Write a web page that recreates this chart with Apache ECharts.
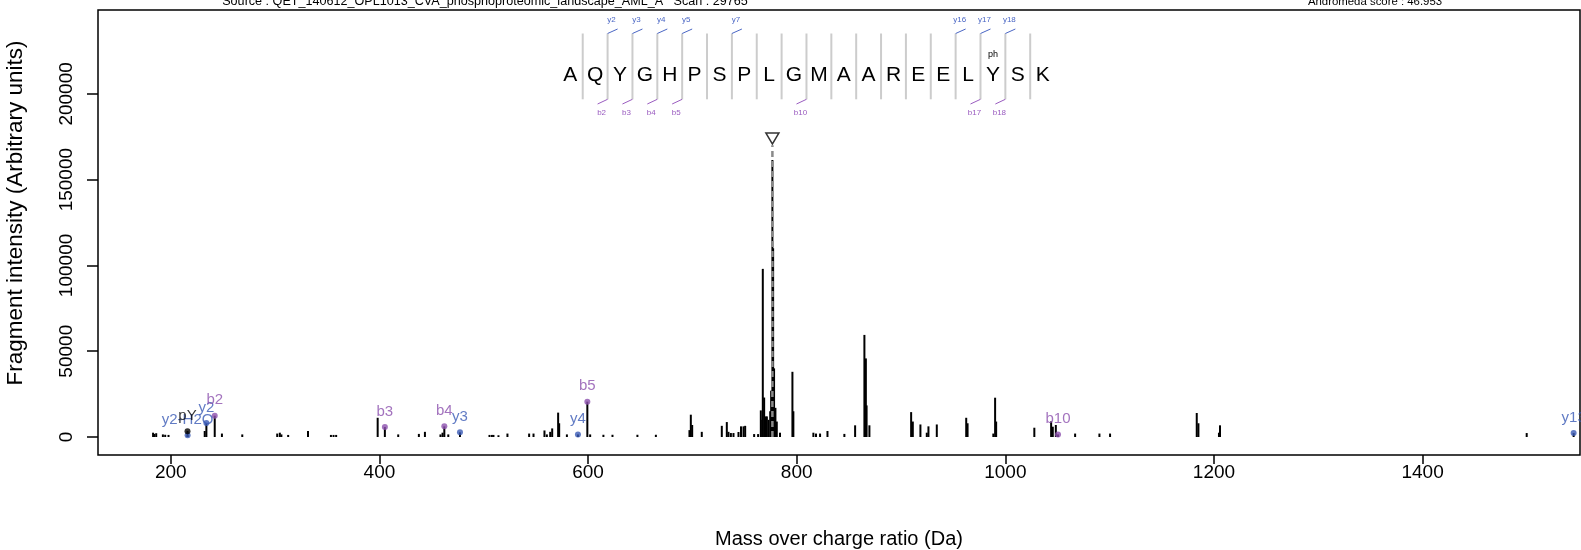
<!DOCTYPE html>
<html><head><meta charset="utf-8">
<script src="https://cdn.jsdelivr.net/npm/echarts@6/dist/echarts.min.js"></script>
<style>html,body{margin:0;padding:0;background:#fff}#c{width:1581px;height:550px}</style>
</head><body><div id="c"></div>
<script>
// ---------- data ----------
const peakMz = [183.0,184.1,186.0,192.4,194.6,197.8,232.5,249.0,268.5,302.0,304.5,306.0,312.5,331.5,353.5,356.0,358.5,
  398.3,418.0,437.8,443.6,458.5,460.5,466.0,505.5,507.8,509.3,514.1,522.7,543.5,547.7,558.2,560.5,563.7,565.6,571.3,572.3,
  579.7,602.0,614.7,623.4,647.3,665.0,697.2,698.5,699.8,709.0,728.2,733.0,734.6,736.9,739.4,744.2,746.6,749.0,750.6,759.2,
  763.0,765.6,766.9,767.5,768.8,770.1,771.4,773.0,774.6,775.5,776.7,777.4,778.3,779.6,780.9,784.0,795.9,796.8,816.0,818.5,
  822.4,829.5,845.7,856.0,864.9,866.3,867.0,869.7,909.7,911.3,918.6,924.7,926.3,934.3,962.5,963.8,988.5,990.2,991.2,1027.8,
  1043.9,1045.5,1048.4,1066.9,1090.2,1100.4,1183.5,1185.1,1204.8,1205.8,1499.8];
const peakInt = [2500,1800,2200,1500,1300,1200,3500,2000,1500,2000,2500,1500,1200,3500,1200,1200,1200,
  11200,1500,1800,3000,1500,2500,1500,1200,1200,1200,1000,2000,2000,2000,3800,1500,3000,5000,14200,8000,
  1500,1500,1300,1300,1300,1300,4000,13000,7000,3000,6500,8700,3000,2300,2300,2900,6200,6200,6500,1700,
  1700,15500,10000,98000,23000,12000,12000,10000,15000,27000,161500,110000,40000,17000,9000,2500,38000,15000,2500,2000,
  2000,3500,1800,6800,59500,45800,18400,6800,14500,9000,7300,2500,6200,7300,11200,8000,2000,22900,9000,5400,
  9100,6000,7000,2000,2000,2000,14000,8000,2500,6800,2300];

const ionLabels = ['pY','y2-H2O','y2','b2','b3','b4','y3','y4','b5','b10','y13'];
const ionMz     = [216.0, 216.1, 234.1, 242.1, 405.2, 462.2, 477.2, 590.3, 599.3, 1050.5, 1544.8];
const ionInt    = [3400, 1000, 8100, 12400, 5800, 6200, 2700, 1500, 20600, 1500, 2300];
const ionKind   = ['imm','y','y','b','b','b','y','y','b','b','y'];

const precursorMz = 776.7;
const precursorMarkInt = 174000;
const precursorLineTop = 170000;

const sequence = ['A','Q','Y','G','H','P','S','P','L','G','M','A','A','R','E','E','L','Y','S','K'];
const bBreaks = [2,3,4,5,10,17,18];
const bBreakLabels = ['b2','b3','b4','b5','b10','b17','b18'];
const yBreaks = [2,3,4,5,7,16,17,18];
const yBreakLabels = ['y2','y3','y4','y5','y7','y16','y17','y18'];
const modIndex = 17;
const modLabel = 'ph';

const xTicks = [200,400,600,800,1000,1200,1400];
const yTicks = [0,50000,100000,150000,200000];

const sourceText = 'Source : QET_140612_OPL1013_CVA_phosphoproteomic_landscape_AML_A   Scan : 29765';
const scoreText = 'Andromeda score : 46.953';
const xTitle = 'Mass over charge ratio (Da)';
const yTitle = 'Fragment intensity (Arbitrary units)';

// ---------- style ----------
const FONT = '"Liberation Sans", Arial, Helvetica, sans-serif';
const BLUE = '#3a5ab5';
const PURPLE = '#8c50ae';
const kindColor = {imm:'#000000', y:BLUE, b:PURPLE};
const GRID = {left:98, right:1, top:10, bottom:95};

// sequence layout
const seqX0 = 570.3, seqDx = 24.86, seqY = 75.5;
const sepTop = 33.5, sepBot = 99.3;

const graphics = [];
sequence.forEach((s,i)=>{
  graphics.push({type:'text', x:seqX0+i*seqDx, y:seqY, style:{text:s, font:'21px '+FONT, fill:'#000', align:'center', verticalAlign:'middle'}});
});
for (let k=1;k<sequence.length;k++){
  const sx = seqX0+(k-0.5)*seqDx;
  graphics.push({type:'line', shape:{x1:sx,y1:sepTop,x2:sx,y2:sepBot}, style:{stroke:'#cccccc', lineWidth:2}});
}
yBreaks.forEach((k,j)=>{
  const sx = seqX0+(k-0.5)*seqDx;
  graphics.push({type:'line', shape:{x1:sx,y1:sepTop,x2:sx+10,y2:29}, style:{stroke:'#4a66c4', lineWidth:1}});
  graphics.push({type:'text', x:sx+4, y:19.5, style:{text:yBreakLabels[j], font:'8px '+FONT, fill:'#4a66c4', align:'center', verticalAlign:'middle'}});
});
bBreaks.forEach((k,j)=>{
  const sx = seqX0+(k-0.5)*seqDx;
  graphics.push({type:'line', shape:{x1:sx,y1:sepBot,x2:sx-10,y2:104}, style:{stroke:'#9a5cc0', lineWidth:1}});
  graphics.push({type:'text', x:sx-6, y:113, style:{text:bBreakLabels[j], font:'8px '+FONT, fill:'#9a5cc0', align:'center', verticalAlign:'middle'}});
});
graphics.push({type:'text', x:seqX0+modIndex*seqDx, y:55, style:{text:modLabel, font:'9px '+FONT, fill:'#000', align:'center', verticalAlign:'middle'}});
// titles
graphics.push({type:'text', x:485, y:1.5, style:{text:sourceText, font:'12.6px '+FONT, fill:'#000', align:'center', verticalAlign:'middle'}});
graphics.push({type:'text', x:1375, y:1.5, style:{text:scoreText, font:'11.4px '+FONT, fill:'#000', align:'center', verticalAlign:'middle'}});
graphics.push({type:'text', x:839, y:539, style:{text:xTitle, font:'20px '+FONT, fill:'#000', align:'center', verticalAlign:'middle'}});
graphics.push({type:'text', x:16, y:213, rotation:Math.PI/2, style:{text:yTitle, font:'22.5px '+FONT, fill:'#000', align:'center', verticalAlign:'middle'}});

const peakData = peakMz.map((m,i)=>[m,peakInt[i]]).concat(ionMz.map((m,i)=>[m,ionInt[i]]));

const ionData = ionMz.map((m,i)=>({
  value:[m,ionInt[i]],
  itemStyle:{color:kindColor[ionKind[i]]},
  label:{color:kindColor[ionKind[i]]}
}));
const ionOrder = [1,0,2,3,4,5,6,7,8,9,10];

const chart = echarts.init(document.getElementById('c'), null, {renderer:'canvas'});
chart.setOption({
  animation:false,
  backgroundColor:'#fff',
  grid:{left:GRID.left, right:GRID.right, top:GRID.top, bottom:GRID.bottom, show:true, borderColor:'#000', borderWidth:1.5, backgroundColor:'transparent'},
  xAxis:{type:'value', min:130.2, max:1550.9,
    axisLine:{show:false, onZero:false},
    axisTick:{show:true, customValues:xTicks, length:9, lineStyle:{color:'#000', width:1.5}},
    axisLabel:{customValues:xTicks, fontSize:19, fontFamily:FONT, color:'#000', margin:8, formatter:(v)=>String(v)},
    splitLine:{show:false}},
  yAxis:{type:'value', min:-10500, max:248900,
    axisLine:{show:false, onZero:false},
    axisTick:{show:true, customValues:yTicks, length:11, lineStyle:{color:'#000', width:1.5}},
    axisLabel:{customValues:yTicks, fontSize:19, fontFamily:FONT, color:'#000', margin:22, rotate:90, formatter:(v)=>String(v)},
    splitLine:{show:false}},
  graphic:graphics,
  series:[
    {type:'custom', clip:true, data:peakData, z:2,
     renderItem:(params, api)=>{
       const p0 = api.coord([api.value(0),0]);
       const p1 = api.coord([api.value(0),api.value(1)]);
       return {type:'line', shape:{x1:p0[0],y1:p0[1],x2:p1[0],y2:p1[1]}, style:{stroke:'#000', lineWidth:2}};
     }},
    {type:'line', data:[[precursorMz,0],[precursorMz,precursorLineTop]], symbol:'none', z:3,
     lineStyle:{color:'#8a8a8a', width:2.5, type:[6,4]}},
    {type:'scatter', data:[[precursorMz,precursorMarkInt]], symbol:'triangle', symbolRotate:180, symbolSize:[13,11], z:4,
     itemStyle:{color:'#fff', borderColor:'#000', borderWidth:1.5}},
    {type:'scatter', data:ionOrder.map(i=>ionData[i]), symbolSize:6, z:5, clip:false,
     label:{show:true, position:'top', distance:5, fontSize:15, fontFamily:FONT,
       formatter:(p)=>ionLabels[ionMz.indexOf(p.value[0])]}}
  ]
});
</script></body></html>
